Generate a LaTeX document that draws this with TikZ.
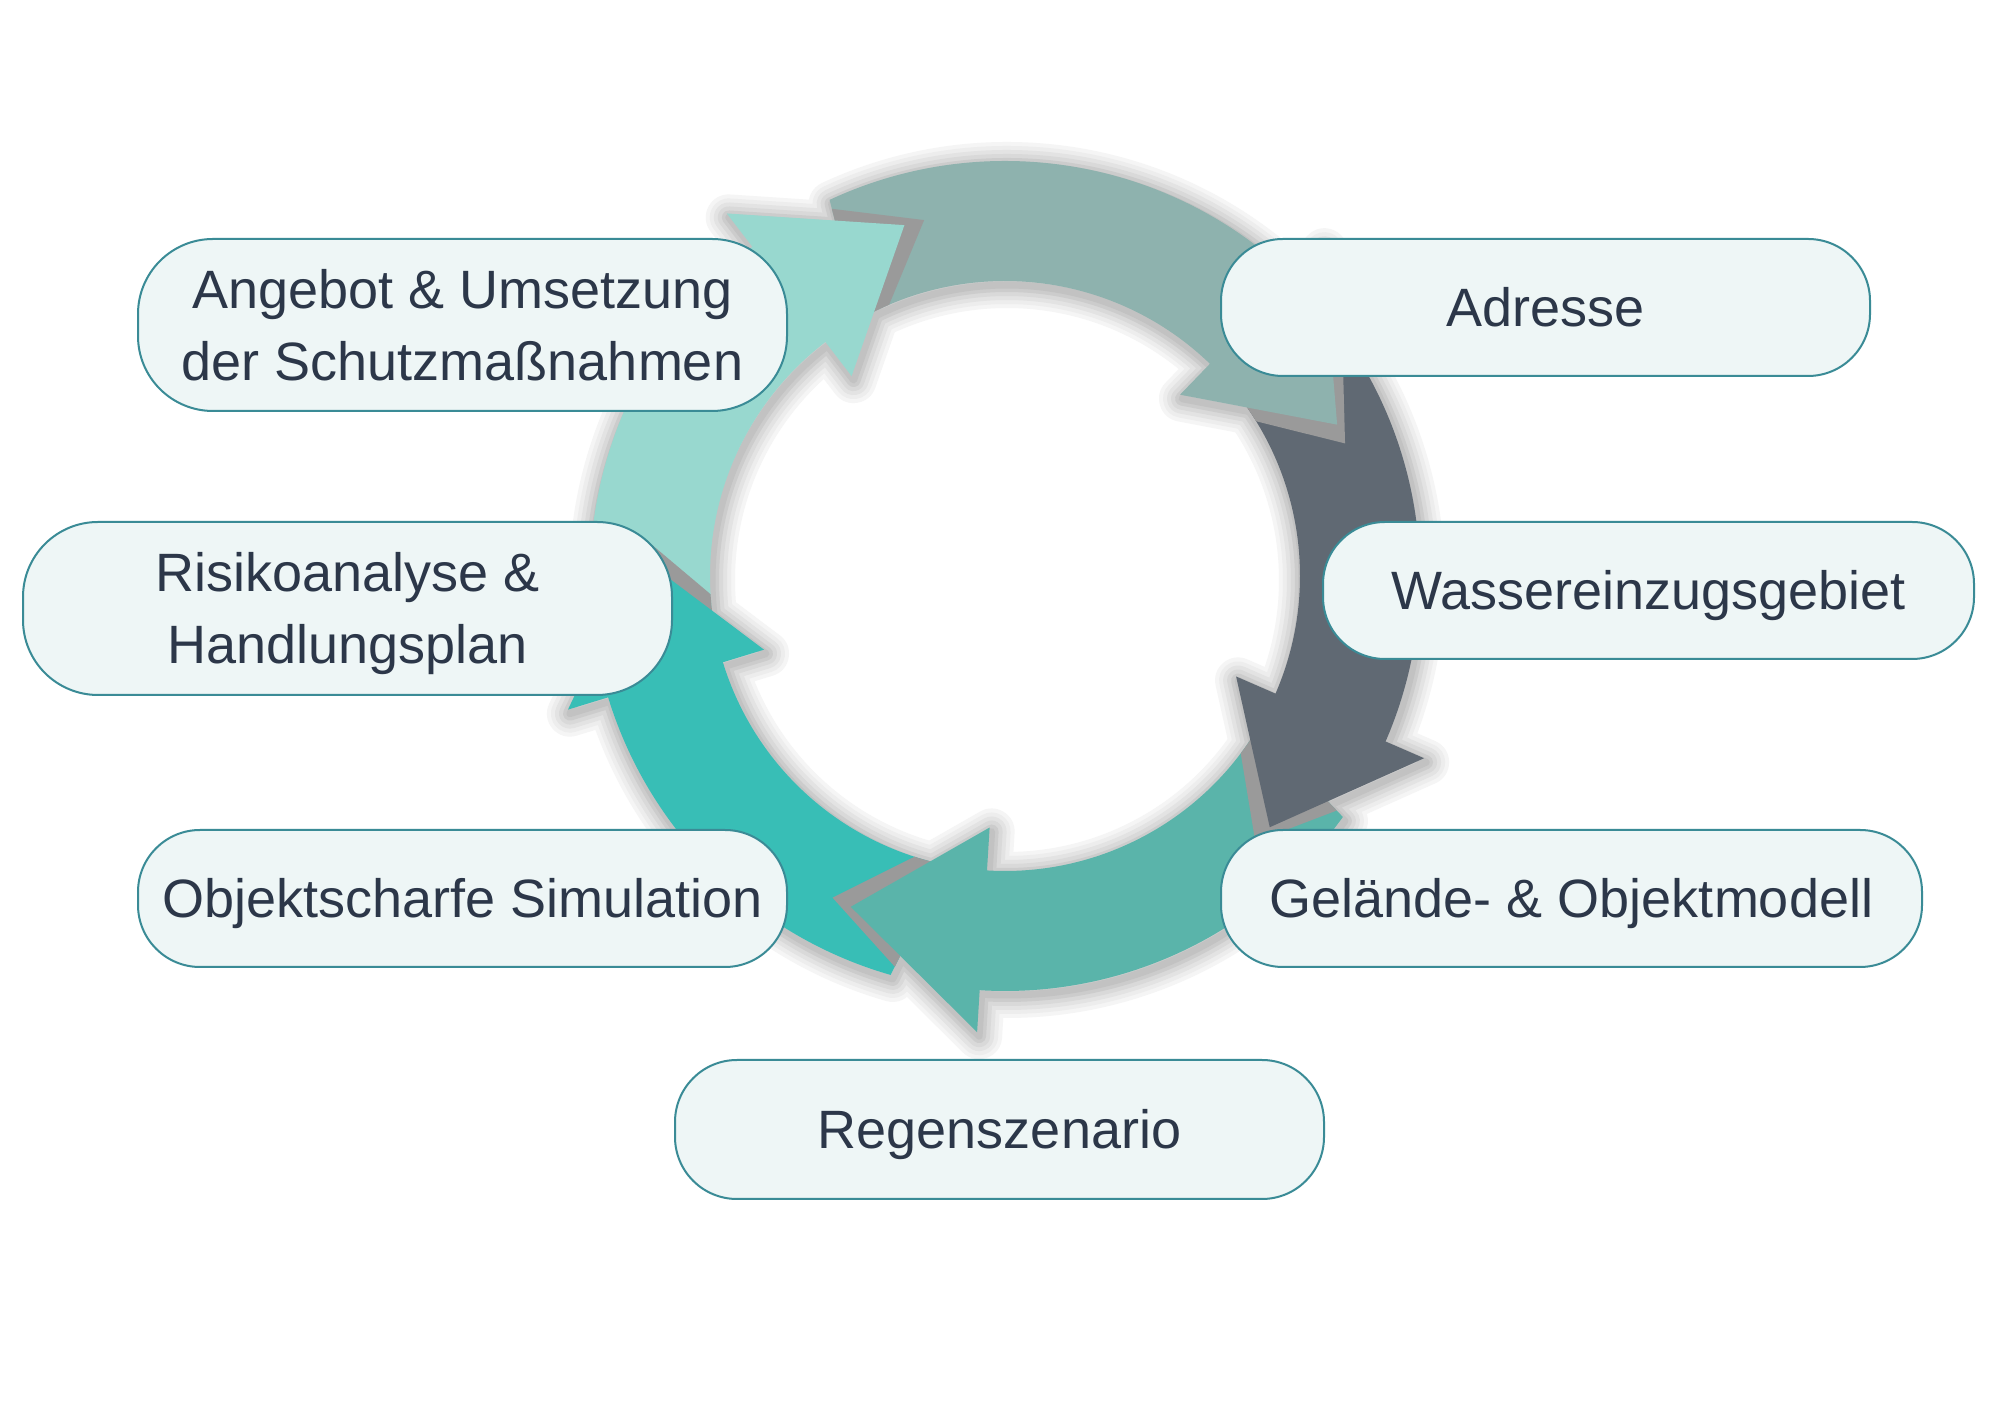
\documentclass[tikz,border=0pt]{standalone}
\usepackage{fontspec}
\setmainfont{Liberation Sans}
\definecolor{cA}{HTML}{98D8CF}
\definecolor{cB}{HTML}{8EB2AE}
\definecolor{cC}{HTML}{606973}
\definecolor{cD}{HTML}{5AB4AA}
\definecolor{cE}{HTML}{38BEB6}
\definecolor{bandgray}{HTML}{9A9A9A}
\definecolor{boxfill}{HTML}{EEF6F6}
\definecolor{boxline}{HTML}{3A8B96}
\definecolor{txt}{HTML}{2C3749}
\newcommand\bodypath[3]{(#1:415) arc[start angle=#1, end angle=#3, radius=415pt] -- (#3:295) arc[start angle=#3, end angle=#2, radius=295pt] -- cycle}
\newcommand\headpath[2]{(#1:457) -- (#2:365) -- (#1:252) -- cycle}
\newcommand\fullpath[4]{(#1:415) arc[start angle=#1, end angle=#3, radius=415pt] -- (#3:457) -- (#4:365) -- (#3:252) -- (#3:295) arc[start angle=#3, end angle=#2, radius=295pt] -- cycle}
\newcommand\twolines[2]{\vtop{\baselineskip=72pt\lineskiplimit=0pt\halign{\hfil##\hfil\cr #1\cr #2\cr}}}
\tikzset{
  pill/.style={draw=boxline, line width=2pt, fill=boxfill, rounded corners=62pt, inner sep=0pt,
    text=txt, font=\fontsize{54}{72}\selectfont, text height=38.7pt, text depth=0pt,
    minimum width=649pt, minimum height=137pt},
  pilltwo/.style={pill, rounded corners=75pt, text depth=72pt},
  band/.style={fill=bandgray},
  shadowlayer/.style={draw=black!#1, line join=round, shift={(2,-4)}}
}
\begin{document}
\begin{tikzpicture}[x=1pt,y=1pt]
\useasboundingbox (0,0) rectangle (2000,1414);
\fill[white] (0,0) rectangle (2000,1414);
\begin{scope}[shift={(1005,838)}]
  % soft shadows, drawn as opaque layers from light to dark
  \foreach \w/\c in {46/4,38/7,30/11,22/15,14/20,7/24}{
    \draw[shadowlayer=\c, line width=\w pt] \fullpath{184.5}{189}{127.5}{106};
    \draw[shadowlayer=\c, line width=\w pt] \fullpath{115}{119.5}{46}{24.5};
    \draw[shadowlayer=\c, line width=\w pt] \fullpath{33.5}{38}{-23.5}{-43.5};
    \draw[shadowlayer=\c, line width=\w pt] \fullpath{-35.5}{-31}{-93.5}{-115};
    \draw[shadowlayer=\c, line width=\w pt] \fullpath{-106}{-101.5}{-163}{-183};
  }
  % bodies (each runs slightly into its own head)
  \fill[cA] \bodypath{184.5}{189}{126.5};
  \fill[cB] \bodypath{115}{119.5}{45};
  \fill[cC] \bodypath{33.5}{38}{-24.5};
  \fill[cD] \bodypath{-35.5}{-31}{-94.5};
  \fill[cE] \bodypath{-106}{-101.5}{-164};
  % heads with cast bands
  \begin{scope}\clip \bodypath{115}{119.5}{45};
    \fill[band, rotate=-3.2] \headpath{127.5}{106};\end{scope}
  \fill[cA] \headpath{127.5}{106};
  \begin{scope}\clip \bodypath{33.5}{38}{-24.5};
    \fill[band, rotate=-3.2] \headpath{46}{24.5};\end{scope}
  \fill[cB] \headpath{46}{24.5};
  \begin{scope}\clip \bodypath{-35.5}{-31}{-94.5};
    \fill[band, rotate=-3.2] \headpath{-23.5}{-43.5};\end{scope}
  \fill[cC] \headpath{-23.5}{-43.5};
  \begin{scope}\clip \bodypath{-106}{-101.5}{-164};
    \fill[band, rotate=-3.2] \headpath{-93.5}{-115};\end{scope}
  \fill[cD] \headpath{-93.5}{-115};
  \begin{scope}\clip \bodypath{184.5}{189}{126.5};
    \fill[band, rotate=-3.2] \headpath{-163}{-183};\end{scope}
  \fill[cE] \headpath{-163}{-183};
\end{scope}
% boxes
\node[pilltwo, minimum height=172pt] (angebot) at (462.5,1089) {\twolines{Angebot \& Umsetzung}{der Schutzmaßnahmen}};
\node[pill] (adresse) at (1545.5,1106.5) {Adresse};
\node[pilltwo, minimum height=173pt] (risiko) at (347.5,805.5) {\twolines{Risikoanalyse \&}{Handlungsplan}};
\node[pill, minimum width=651pt] (wasser) at (1648.5,823.5) {Wassereinzugsgebiet};
\node[pill] (objekt) at (462.5,515.5) {Objektscharfe Simulation};
\node[pill, minimum width=701pt] (gelaende) at (1571.5,515.5) {Gelände- \& Objektmodell};
\node[pill, minimum height=139pt] (regen) at (999.5,284.5) {Regenszenario};
\end{tikzpicture}
\end{document}
